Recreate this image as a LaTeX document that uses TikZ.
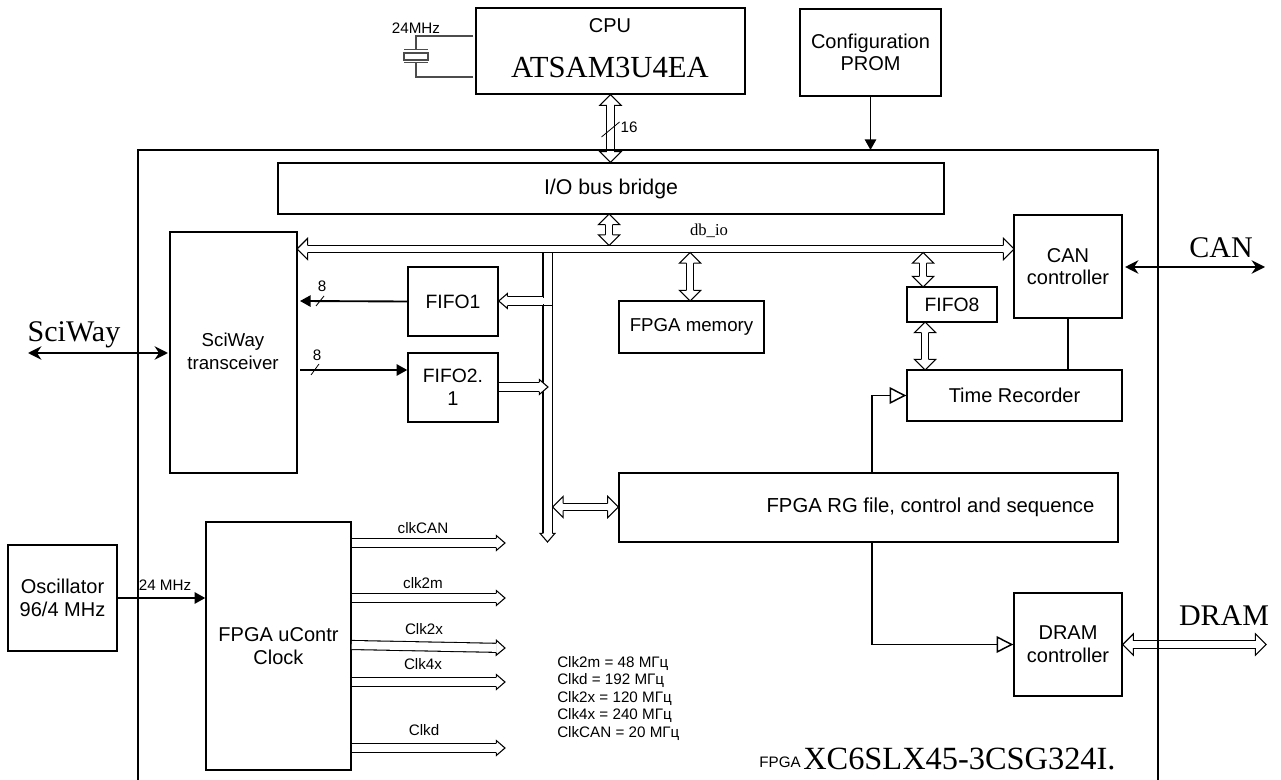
\documentclass[tikz,border=0pt]{standalone}
\usepackage{fontspec}
\setmainfont{Liberation Sans}
\newfontfamily\tnr{Liberation Serif}
\usetikzlibrary{arrows.meta,calc}

% hollow bus head: name, half head width, half shaft width, length
\newcommand{\declarebustip}[4]{%
\pgfdeclarearrow{name=#1,
  setup code={\pgfarrowssettipend{#4}\pgfarrowssetlineend{0.2pt}%
    \pgfarrowssetvisualbackend{0pt}\pgfarrowssetbackend{0pt}},
  drawing code={\pgfsetlinewidth{0.8pt}\pgfsetdash{}{0pt}\pgfsetmiterjoin
    \pgfsetfillcolor{white}%
    \pgfpathmoveto{\pgfqpoint{0pt}{#3}}\pgfpathlineto{\pgfqpoint{0pt}{#2}}%
    \pgfpathlineto{\pgfqpoint{#4}{0pt}}\pgfpathlineto{\pgfqpoint{0pt}{-#2}}%
    \pgfpathlineto{\pgfqpoint{0pt}{-#3}}\pgfusepathqfillstroke}}}
\declarebustip{BusTip}{8pt}{2.8pt}{8pt}
\declarebustip{ClkTip}{5.6pt}{3.6pt}{6.5pt}

\tikzset{
  block/.style={draw,line width=1.1pt,fill=white,inner sep=0pt,align=center,font=\fontsize{15}{17}\selectfont},
  wire/.style={line width=1.1pt},
  solidwire/.style={line width=1.4pt,-{Triangle[length=8pt,width=8.5pt]}},
  openwire/.style={line width=1.1pt,-{Triangle[open,length=12.5pt,width=12.5pt,fill=white]}},
  boldwire/.style={line width=1.9pt,{Stealth[length=10pt,width=10pt]}-{Stealth[length=10pt,width=10pt]}},
  bus/.style={draw,line width=0.8pt,double,double distance=4.6pt,{BusTip}-{BusTip}},
  busout/.style={draw,line width=0.8pt,double,double distance=6pt,-{ClkTip}},
  tick/.style={line width=0.6pt},
  xtal/.style={line width=0.8pt,black!70},
  small/.style={inner sep=0pt,font=\fontsize{11.4}{13}\selectfont},
  big/.style={inner sep=0pt,font=\tnr\fontsize{22.5}{24}\selectfont}
}

% name, x1, y1, x2, y2, text
\newcommand{\blockat}[6]{\node[block,minimum width={0.75pt*(#4-#2)},minimum height={0.75pt*(#5-#3)}] (#1) at ({(#2+#4)/2},{(#3+#5)/2}) {#6};}

\begin{document}
\begin{tikzpicture}[x=0.75pt,y=0.75pt,yscale=-1]
\useasboundingbox (0,0) rectangle (1281,780);

\blockat{cpu}{476}{8}{745}{94}{}
\blockat{prom}{800}{9}{941}{96}{Configuration\\PROM}
\blockat{bridge}{278}{163}{944}{214}{\fontsize{16}{19}\selectfont I/O bus bridge}
\blockat{sciway}{170}{232}{297}{473}{}
\blockat{fifoa}{408}{267}{498}{336}{\fontsize{14.5}{19}\selectfont FIFO1}
\blockat{fifob}{408}{353}{498}{422}{\fontsize{14.5}{18.5}\selectfont FIFO2.\\1}
\blockat{mem}{619}{301}{764}{353}{\fontsize{14}{19}\selectfont FPGA memory}
\blockat{can}{1014}{215}{1122}{318}{CAN\\controller}
\blockat{fifoe}{907}{287}{997}{322}{\fontsize{14.5}{19}\selectfont FIFO8}
\blockat{rec}{907}{370}{1122}{421}{Time Recorder}
\blockat{rgfile}{619}{473}{1118}{542}{\hspace*{93pt}\fontsize{15.2}{19}\selectfont FPGA RG file, control and sequence}
\blockat{dram}{1014}{593}{1122}{696}{DRAM\\controller}
\blockat{osc}{8}{545}{117}{651}{Oscillator\\96/4 MHz}
\blockat{clk}{206}{522}{351}{770}{FPGA uContr\\Clock}

\node[inner sep=0pt,align=center,font=\fontsize{14}{17}\selectfont] (scitext) at (233,351) {SciWay\\transceiver};
\node[inner sep=0pt,font=\fontsize{15}{19}\selectfont] (cputitle) at (610,26) {CPU};
\node[inner sep=0pt,font=\tnr\fontsize{23}{24}\selectfont] (cpuname) at (610,68) {ATSAM3U4EA};

% crystal
\coordinate (xa) at (473,36);
\coordinate (xb) at (473,77);
\coordinate (xc) at (416,50);
\coordinate (xd) at (416,62);
\draw[xtal] (xa) -| (xc);
\draw[xtal] (xb) -| (xd);
\draw[xtal,line width=1pt] (404,49.5) -- (428,49.5);
\draw[xtal,line width=1pt] (404,62.5) -- (428,62.5);
\draw[xtal,line width=1pt] (404,53) rectangle (428,60);
\node[small] (xlabel) at (416,28) {24MHz};

% buses
\draw[bus] (cpu.south) -- (cpu.south |- bridge.north);
\draw[tick] (601.5,137) -- (619.5,122);
\node[small] (lbus) at (629,127) {16};
\coordinate (dbl) at (297,249);
\coordinate (dbr) at (1014,249);
\draw[bus] (609,214) -- (609,245.5);
\draw[busout] (547.5,252) -- (547.5,542);
\draw[bus] (dbl) -- (dbr);
\draw[bus] (690,252.5) -- (690,301);
\draw[bus] (923,252.5) -- (923,287);
\draw[bus] (925,322) -- (925,370);
\node[inner sep=0pt,font=\tnr\fontsize{12.5}{14}\selectfont] (dblabel) at (709,231) {db\_io};

% fifo side
\draw[solidwire] (fifoa.west) -- (300,301);
\draw[tick] (316,306) -- (324,296);
\node[small] (la) at (322,286) {8};
\draw[solidwire] (300,370) -- (fifob.west |- 0,370);
\draw[tick] (311,375) -- (319,364);
\node[small] (lb) at (317,355) {8};
\fill[white] (541,298.5) rectangle (546,304);
\draw[busout] (543,301) -- (fifoa.east |- 0,301);
\draw[line width=0.8pt] (543,305.3) -- (552,305.3);
\draw[busout] (fifob.east |- 0,387) -- (548,387);
\draw[bus] (552.5,507) -- (rgfile.west |- 0,507);

% right side
\draw[wire] (can.south -| 1068,0) -- (rec.north -| 1068,0);
\draw[openwire] (rgfile.north -| 872,0) |- (rec.west);
\draw[openwire] (rgfile.south -| 872,0) |- (dram.west);
\draw[boldwire] (1125,267) -- (1265,267);
\node[big] (lcan) at (1221,248) {CAN};
\draw[bus] (dram.east) -- (1266,644.5);
\node[big] (ldram) at (1224,616) {DRAM};
\draw[line width=1.4pt,-{Triangle[length=8pt,width=8.5pt]}] (prom.south) -- (prom.south |- 0,150);

% left side
\draw[boldwire] (28,353) -- (168,353);
\node[big] (lsci) at (74,335) {SciWay};
\draw[solidwire] (osc.east) -- (clk.west |- osc.east);
\node[small] (losc) at (165,585) {24 MHz};

% clocks
\draw[busout] (clk.east |- 0,543) -- (505,543);
\node[small] (lclka) at (423,528) {clkCAN};
\draw[busout] (clk.east |- 0,598) -- (505,598);
\node[small] (lclkb) at (423,583) {clk2m};
\draw[busout] (clk.east |- 0,645) -- (505,648);
\node[small] (lclkc) at (424,629) {Clk2x};
\draw[busout] (clk.east |- 0,682) -- (505,682);
\node[small] (lclkd) at (423,664) {Clk4x};
\draw[busout] (clk.east |- 0,748) -- (505,748);
\node[small] (lclke) at (424,730) {Clkd};

\node[small,anchor=north west,align=left,font=\fontsize{11.4}{13.1}\selectfont] (freqs) at (557,656) {Clk2m = 48 МГц\\Clkd = 192 МГц\\Clk2x = 120 МГц\\Clk4x = 240 МГц\\ClkCAN = 20 МГц};
\node[small,anchor=base east] (lfpga) at (801,767) {FPGA};
\node[inner sep=0pt,anchor=base west,font=\tnr\fontsize{24.3}{26}\selectfont] (lchip) at (803,769) {XC6SLX45-3CSG324I.};

% FPGA outline, open at the bottom
\draw[wire] (138,780) |- (1158,150) -- (1158,780);
\end{tikzpicture}
\end{document}
